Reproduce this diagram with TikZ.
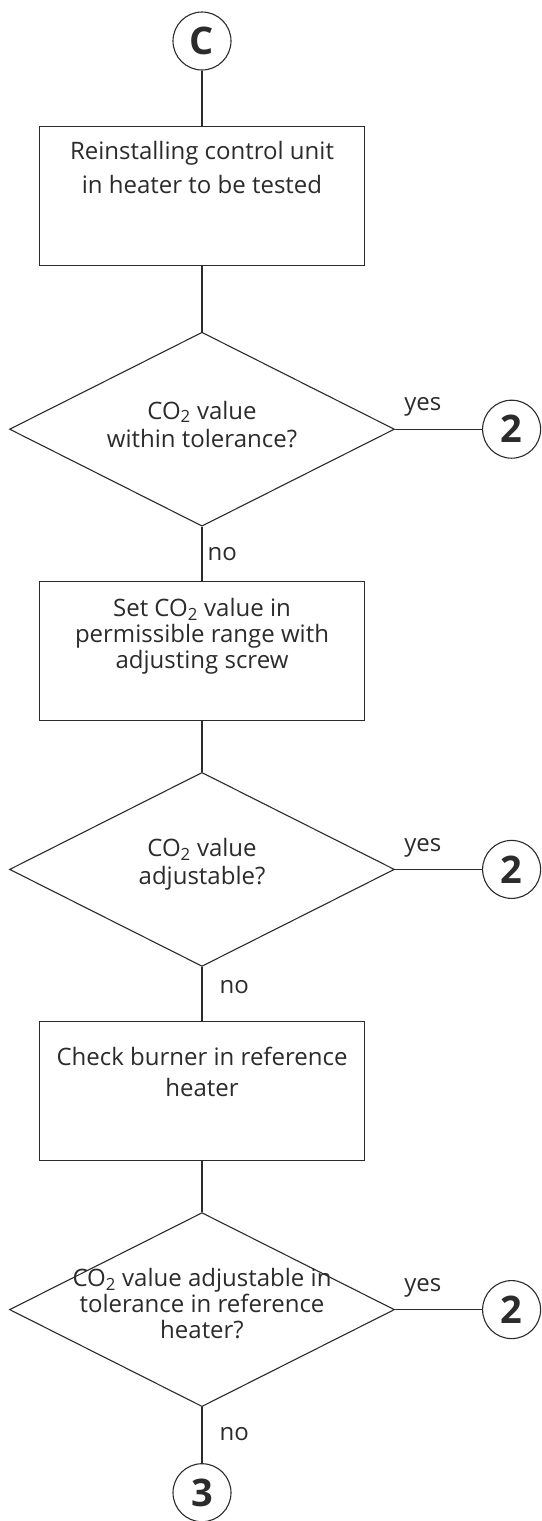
\documentclass[tikz,border=0pt]{standalone}
\usepackage{fontspec}
\setmainfont{Open Sans}
\usepackage{xcolor}
\usetikzlibrary{positioning, shapes.geometric}

\definecolor{inkgray}{HTML}{2B2B2B}
\newcommand{\COtwo}{CO\textsubscript{2}}

\begin{document}
\begin{tikzpicture}[
    x=1pt, y=-1pt,
    node distance=54pt,
    line width=1.1pt,
    every node/.style={text=inkgray, font=\fontsize{24}{27}\selectfont},
    stepbox/.style={draw=inkgray, minimum width=325pt, minimum height=139pt, inner sep=0pt},
    boxtext/.style={anchor=north, align=center, inner sep=0pt},
    decision/.style={draw=inkgray, diamond, minimum width=385pt, minimum height=194pt, inner sep=0pt},
    dectext/.style={align=center, inner sep=0pt, font=\fontsize{24}{28}\selectfont},
    connector/.style={draw=inkgray, circle, minimum size=58pt, inner sep=0pt, font=\bfseries\fontsize{38}{38}\selectfont},
    link/.style={draw=inkgray},
    answer/.style={font=\fontsize{24}{24}\selectfont, inner sep=0pt}
]
\useasboundingbox (0,0) rectangle (541,1521);

\node[connector] (startC) at (202,41) {C};
\node[stepbox, below=55pt of startC,
      label={[boxtext, yshift=-15pt, font=\fontsize{24}{34}\selectfont]north:Reinstalling control unit\\in heater to be tested}] (reinst) {};
\node[decision, below=66pt of reinst,
      label={[dectext, yshift=5pt]center:\COtwo{} value\\within tolerance?}] (check1) {};
\node[connector, right=87pt of check1] (two1) {2};

\node[stepbox, below=of check1,
      label={[boxtext, yshift=-17pt, font=\fontsize{24}{26}\selectfont]north:Set \COtwo{} value in\\permissible range with\\adjusting screw}] (adjust) {};
\node[decision, below=51pt of adjust,
      label={[dectext, yshift=5pt]center:\COtwo{} value\\adjustable?}] (check2) {};
\node[connector, right=87pt of check2] (two2) {2};

\node[stepbox, below=of check2,
      label={[boxtext, yshift=-26pt, font=\fontsize{24}{31}\selectfont]north:Check burner in reference\\heater}] (burner) {};
\node[decision, below=51pt of burner,
      label={[dectext, yshift=6pt, font=\fontsize{24}{26}\selectfont]center:\COtwo{} value adjustable in\\tolerance in reference\\heater?}] (check3) {};
\node[connector, right=87pt of check3] (two3) {2};
\node[connector, below=56pt of check3] (three) {3};

\draw[link] (startC) -- (reinst);
\draw[link] (reinst) -- (check1);
\draw[link] (check1) -- node[answer, pos=0.1, anchor=south west, yshift=12pt] {yes} (two1);
\draw[link] (check1) -- node[answer, pos=0.5, anchor=west, xshift=5pt] {no} (adjust);
\draw[link] (adjust) -- (check2);
\draw[link] (check2) -- node[answer, pos=0.1, anchor=south west, yshift=12pt] {yes} (two2);
\draw[link] (check2) -- node[answer, pos=0.37, anchor=west, xshift=17pt] {no} (burner);
\draw[link] (burner) -- (check3);
\draw[link] (check3) -- node[answer, pos=0.1, anchor=south west, yshift=12pt] {yes} (two3);
\draw[link] (check3) -- node[answer, pos=0.48, anchor=west, xshift=17pt] {no} (three);
\end{tikzpicture}
\end{document}
